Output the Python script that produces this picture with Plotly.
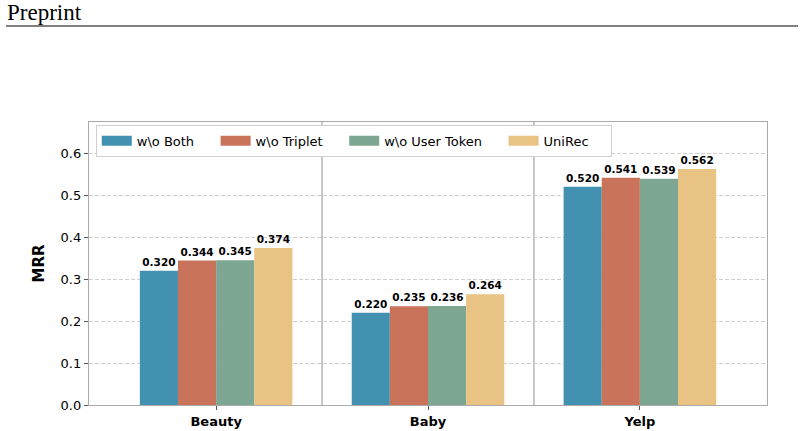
import plotly.graph_objects as go

categories = ["Beauty", "Baby", "Yelp"]
series_names = ["w\\o Both", "w\\o Triplet", "w\\o User Token", "UniRec"]
wo_both = [0.320, 0.220, 0.520]
wo_triplet = [0.344, 0.235, 0.541]
wo_user_token = [0.345, 0.236, 0.539]
unirec = [0.374, 0.264, 0.562]
y_ticks = [0.0, 0.1, 0.2, 0.3, 0.4, 0.5, 0.6]

colors = ["#4391B0", "#C9735A", "#7EA793", "#E8C384"]
series_values = [wo_both, wo_triplet, wo_user_token, unirec]

PAD = "\u00a0" * 4

fig = go.Figure()
for name, vals, col in zip(series_names, series_values, colors):
    fig.add_trace(go.Bar(
        x=list(range(len(categories))), y=vals, name=name, showlegend=False,
        marker=dict(color=col, line=dict(width=0)),
        texttemplate="<b>%{y:.3f}</b>", textposition="outside",
        textfont=dict(family="DejaVu Sans", size=10.5, color="black"),
        cliponaxis=False,
    ))
# legend-only entries (wide colour patches like the original)
for name, col in zip(series_names, colors):
    fig.add_trace(go.Scatter(
        x=[None], y=[None], mode="lines", name=name + PAD,
        line=dict(color=col, width=10), showlegend=True,
    ))

for xv in [0.5, 1.5]:
    fig.add_shape(type="line", xref="x", yref="paper", x0=xv, x1=xv, y0=0, y1=1,
                  line=dict(color="#aaaaaa", width=1.3), layer="below")

W, H = 678, 283
fig.add_shape(type="line", xref="paper", yref="paper", x0=(6 - 89) / W, x1=(798 - 89) / W,
              y0=(405 - 26) / H, y1=(405 - 26) / H,
              line=dict(color="black", width=1))
fig.add_annotation(text="Preprint", xref="paper", yref="paper",
                   x=(5 - 89) / W, y=(405 - 13) / H, xanchor="left", yanchor="middle",
                   showarrow=False, font=dict(family="Liberation Serif", size=23, color="black"))

fig.update_layout(
    width=804, height=431,
    margin=dict(l=89, r=37, t=122, b=26),
    paper_bgcolor="white", plot_bgcolor="white",
    barmode="group", bargap=0.28, bargroupgap=0,
    font=dict(family="DejaVu Sans", color="black"),
    legend=dict(orientation="h", x=0.01, y=0.99, xanchor="left", yanchor="top",
                bgcolor="white", bordercolor="#d0d0d0", borderwidth=1,
                font=dict(size=13), traceorder="normal"),
    showlegend=True,
)
fig.update_xaxes(
    range=[-0.6, 2.6], tickmode="array", tickvals=list(range(len(categories))),
    ticktext=["<b>%s</b>" % c for c in categories], tickfont=dict(size=13),
    showline=True, mirror=True, linecolor="#aaaaaa", linewidth=1.3, automargin=False,
    ticks="outside", ticklen=4, tickcolor="#555555", showgrid=False, zeroline=False,
)
fig.update_yaxes(
    range=[0, 0.674], tickmode="array", tickvals=y_ticks,
    ticktext=["%.1f" % t for t in y_ticks], tickfont=dict(size=13), automargin=False,
    title=dict(text="<b>MRR</b>", font=dict(size=15), standoff=12),
    showline=True, mirror=True, linecolor="#aaaaaa", linewidth=1.3,
    ticks="outside", ticklen=4, tickcolor="#555555",
    showgrid=True, gridcolor="#cfcfcf", griddash="4px,2px", gridwidth=1, zeroline=False,
)

fig.write_html("out.html")
